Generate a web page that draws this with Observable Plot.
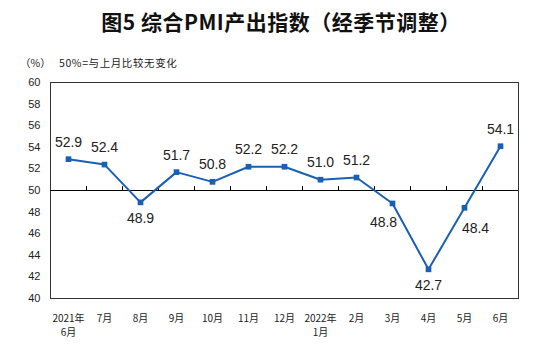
<!DOCTYPE html>
<html><head><meta charset="utf-8">
<script src="https://cdn.jsdelivr.net/npm/d3@7"></script>
<script src="https://cdn.jsdelivr.net/npm/@observablehq/plot@0.6"></script>
<style>
body{margin:0;background:#fff;width:546px;height:357px;overflow:hidden;position:relative;font-family:"Liberation Sans",Arial,sans-serif;}
#title{position:absolute;left:8px;top:6px;width:546px;text-align:center;font-family:"Noto Sans CJK SC",sans-serif;font-weight:bold;font-size:21px;line-height:30px;color:#111;letter-spacing:0.5px;}
.sub{position:absolute;top:55px;font-family:"Noto Sans CJK SC",sans-serif;font-size:10.5px;line-height:16px;color:#222;white-space:pre;}
#chart{position:absolute;left:0;top:72px;}
</style></head>
<body>
<div id="title">图5 综合PMI产出指数（经季节调整）</div>
<div class="sub" style="left:20px">（%）</div>
<div class="sub" style="left:59px;letter-spacing:0.6px">50%=与上月比较无变化</div>
<div id="chart"></div>
<script>
const months = ["2021年\n6月","7月","8月","9月","10月","11月","12月","2022年\n1月","2月","3月","4月","5月","6月"];
const values = [52.9,52.4,48.9,51.7,50.8,52.2,52.2,51.0,51.2,48.8,42.7,48.4,54.1];
const yTicks = [40,42,44,46,48,50,52,54,56,58,60];
const baseline = 50;

const data = months.map((m,i)=>({m, v: values[i], i}));
const W = 546, H = 285, mL = 50, mR = 28;
const step = (W - mL - mR) / months.length;
const blue = "#1a5fb4";

// label placement for points below the baseline, derived from the neighbours
const below = data.filter(d => d.v < baseline);
const trend = d => {
  const p = values[d.i - 1], n = values[d.i + 1];
  if (p !== undefined && n !== undefined && p > d.v && n < d.v) return "down";
  if (p !== undefined && n !== undefined && p < d.v && n > d.v) return "up";
  return "min";
};
const fmt = d => d.v.toFixed(1);

const chart = Plot.plot({
  width: W, height: H,
  marginLeft: mL, marginRight: mR, marginTop: 10, marginBottom: 59,
  style: {fontFamily: "Liberation Sans, Arial, sans-serif", background: "#fff"},
  x: {type: "point", domain: months, padding: 0.5, round: false, label: null},
  y: {domain: [40, 60], label: null},
  marks: [
    Plot.frame({stroke: "#333", strokeWidth: 1}),
    Plot.axisY({ticks: yTicks, tickSize: 0, tickPadding: 10, fontSize: 11, fill: "#222", label: null}),
    Plot.axisX({tickSize: 0, tickPadding: 13, fontSize: 10, fill: "#222", label: null, fontFamily: "Noto Sans CJK SC", lineHeight: 1.45}),
    Plot.ruleY([baseline], {stroke: "#000", strokeWidth: 1}),
    Plot.vector(months.slice(0, -1), {x: d => d, y: () => baseline, dx: step/2, length: 4, rotate: 0, anchor: "start", stroke: "#000", strokeWidth: 1,
      shape: {draw(ctx, l){ ctx.moveTo(0,0); ctx.lineTo(0,-l); }}}),
    Plot.line(data, {x: "m", y: "v", stroke: blue, strokeWidth: 2}),
    Plot.dot(data, {x: "m", y: "v", symbol: "square", fill: blue, r: 3.2}),
    Plot.text(data.filter(d => d.v >= baseline), {x: "m", y: "v", text: fmt, dy: -17, fontSize: 14, fill: "#222"}),
    Plot.text(below.filter(d => trend(d) === "min"), {x: "m", y: "v", text: fmt, dy: 16, fontSize: 14, fill: "#222"}),
    Plot.text(below.filter(d => trend(d) === "down"), {x: "m", y: "v", text: fmt, dx: -9, dy: 19, fontSize: 14, fill: "#222"}),
    Plot.text(below.filter(d => trend(d) === "up"), {x: "m", y: "v", text: fmt, dx: 11, dy: 21, fontSize: 14, fill: "#222"})
  ]
});
document.getElementById("chart").appendChild(chart);
</script>
</body></html>
